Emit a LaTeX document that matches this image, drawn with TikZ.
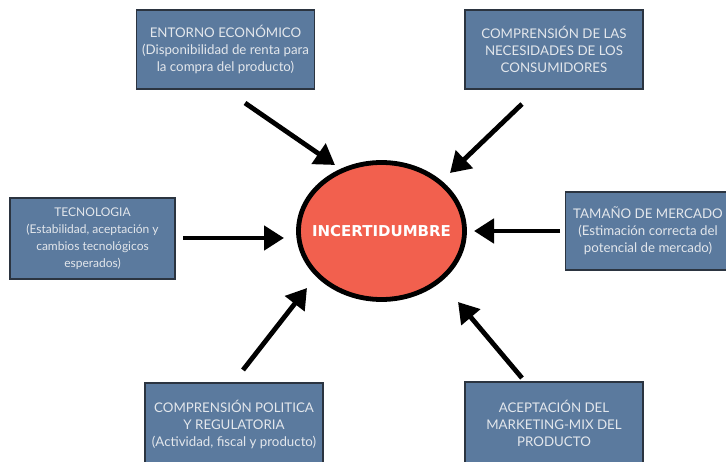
\documentclass[tikz,border=0pt]{standalone}
\usepackage{fontspec}
\setmainfont{Lato}
\newfontfamily\ellfont{DejaVu Sans}
\usetikzlibrary{arrows.meta,shapes.geometric}
\definecolor{boxfill}{HTML}{5B7A9E}
\definecolor{boxline}{HTML}{2B3440}
\definecolor{boxtext}{HTML}{E3E7EC}
\definecolor{ellfill}{HTML}{F2604E}
\tikzset{
  infobox/.style={draw=boxline, line width=1.6pt, fill=boxfill, text=boxtext,
    align=center, font=\fontsize{13.3}{17}\selectfont, inner sep=0pt,
    minimum width=178pt, minimum height=79pt},
  bigarrow/.style={line width=4.8pt, draw=black,
    -{Triangle[length=20pt,width=24pt]}}
}
\begin{document}
\begin{tikzpicture}[x=1pt,y=-1pt]
\useasboundingbox (0,0) rectangle (726,462);
\node[infobox] (eco) at (225.5,49.5) {ENTORNO ECONÓMICO\\(Disponibilidad de renta para\\la compra del producto)};
\node[infobox] (nec) at (554,49.5) {COMPRENSIÓN DE LAS\\NECESIDADES DE LOS\\CONSUMIDORES};
\node[infobox, minimum width=165pt, minimum height=81pt, font=\fontsize{12}{17}\selectfont] (tec) at (92.5,238.5) {TECNOLOGIA\\(Estabilidad, aceptación y\\cambios tecnológicos\\esperados)};
\node[infobox, minimum width=165pt, minimum height=78pt] (tam) at (648,231) {TAMAÑO DE MERCADO\\(Estimación correcta del\\potencial de mercado)};
\node[infobox, minimum height=82pt] (pol) at (234,424) {COMPRENSIÓN POLITICA\\Y REGULATORIA\\(Actividad, fiscal y producto)};
\node[infobox, minimum height=82pt] (ace) at (554,423) {ACEPTACIÓN DEL\\MARKETING-MIX DEL\\PRODUCTO};
\node[ellipse, draw=black, line width=4.8pt, fill=ellfill, inner sep=0pt, minimum width=166pt, minimum height=137pt,
  text=white, font=\ellfont\fontsize{15}{17}\selectfont\bfseries] (inc) at (381.5,231) {\makebox[0pt]{INCERTIDUMBRE}};
\coordinate (s1) at (245,103); \coordinate (t1) at (335,165);
\coordinate (s2) at (522,104); \coordinate (t2) at (450,173);
\coordinate (s3) at (183,238); \coordinate (t3) at (284,238);
\coordinate (s4) at (560,231); \coordinate (t4) at (474,231);
\coordinate (s5) at (243,370); \coordinate (t5) at (307,288);
\coordinate (s6) at (522,378); \coordinate (t6) at (458,302);
\foreach \i in {1,...,6} {\draw[bigarrow] (s\i) -- (t\i);}
\end{tikzpicture}
\end{document}
